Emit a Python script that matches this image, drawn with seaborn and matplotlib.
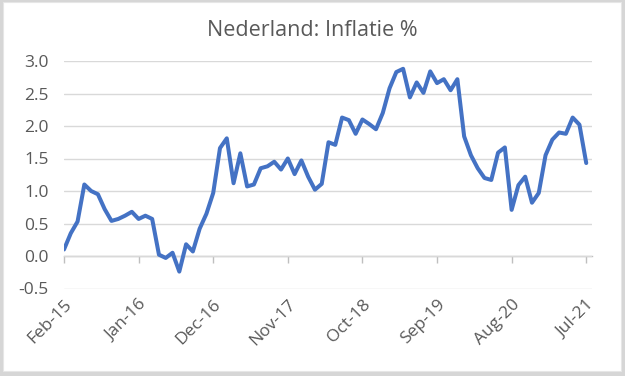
import numpy as np
import pandas as pd
import matplotlib
matplotlib.use("Agg")
import matplotlib.pyplot as plt
import seaborn as sns
from matplotlib.patches import Rectangle

# ----------------------------------------------
# data: Dutch inflation, monthly Feb-15 .. Jul-21
months = pd.date_range("2015-02-01", periods=78, freq="MS").strftime("%b-%y").tolist()
inflation = [
    0.10, 0.35, 0.53, 1.10, 1.00, 0.95, 0.72, 0.54, 0.57, 0.62, 0.68,   # 2015
    0.57, 0.62, 0.57, 0.02, -0.03, 0.05, -0.24, 0.18, 0.07, 0.42, 0.65, 0.97,  # 2016
    1.66, 1.81, 1.12, 1.58, 1.07, 1.10, 1.35, 1.38, 1.45, 1.33, 1.50, 1.26,   # 2017
    1.47, 1.22, 1.02, 1.11, 1.75, 1.71, 2.13, 2.09, 1.88, 2.10, 2.03, 1.95,   # 2018
    2.20, 2.58, 2.83, 2.88, 2.44, 2.67, 2.51, 2.84, 2.66, 2.72, 2.55, 2.72,   # 2019
    1.84, 1.55, 1.35, 1.20, 1.17, 1.59, 1.67, 0.71, 1.09, 1.22, 0.82, 0.97,   # 2020
    1.55, 1.79, 1.90, 1.88, 2.13, 2.02, 1.43,                                 # 2021
]
tick_step = 11
title = "Nederland: Inflatie %"
# ----------------------------------------------

sns.set_style("white")
plt.rcParams["font.family"] = ["Open Sans", "DejaVu Sans"]

df = pd.DataFrame({"pos": np.arange(len(months)), "month": months, "value": inflation})

fig = plt.figure(figsize=(6.25, 3.76), dpi=100)
fig.patch.set_facecolor("#d6d6d6")
frame = Rectangle((3 / 625, 1 - 371 / 376), 618 / 625, 369 / 376,
                  transform=fig.transFigure, facecolor="white",
                  edgecolor="#e6e6e6", linewidth=0.8, zorder=-10)
fig.patches.append(frame)

ax = fig.add_axes([64 / 625, 1 - 288.5 / 376, 528 / 625, 227.5 / 376])
ax.set_zorder(5)
ax.set_facecolor("none")

sns.lineplot(data=df, x="pos", y="value", color="#4472C4", linewidth=2.9, ax=ax, zorder=5)

ax.set_xlim(0, 77.85)
ax.set_ylim(-0.5, 3.0)
ax.set_yticks(np.arange(-0.5, 3.01, 0.5))
ax.set_yticklabels([f"{v:.1f}" for v in np.arange(-0.5, 3.01, 0.5)])
ax.yaxis.grid(True, color="#d9d9d9", linewidth=1)
ax.xaxis.grid(False)
for s in ax.spines.values():
    s.set_visible(False)

ticks = df["pos"][::tick_step]
ax.set_xticks(ticks)
ax.set_xticklabels(df["month"][::tick_step], rotation=45, ha="right",
                   rotation_mode="anchor")
ax.tick_params(axis="x", length=0, pad=6, labelsize=12.5, colors="#595959")
ax.tick_params(axis="y", length=0, pad=11, labelsize=12.5, colors="#595959")
ax.set_xlabel("")
ax.set_ylabel("")

# horizontal axis line with tick marks sits at y = 0
y0 = (0 - ax.get_ylim()[0]) / (ax.get_ylim()[1] - ax.get_ylim()[0])
sec = ax.secondary_xaxis(y0)
sec.set_xticks(ticks)
sec.set_xticklabels([])
sec.tick_params(axis="x", direction="out", length=5, width=1, color="#bfbfbf")
sec.spines["bottom"].set_color("#bfbfbf")
sec.spines["bottom"].set_linewidth(1)
for side in ["top", "left", "right"]:
    sec.spines[side].set_visible(False)

fig.text(0.5, 1 - 30 / 376, title, ha="center", va="center",
         fontsize=15.5, color="#595959")

fig.savefig("out.png", dpi=100, facecolor=fig.get_facecolor())
